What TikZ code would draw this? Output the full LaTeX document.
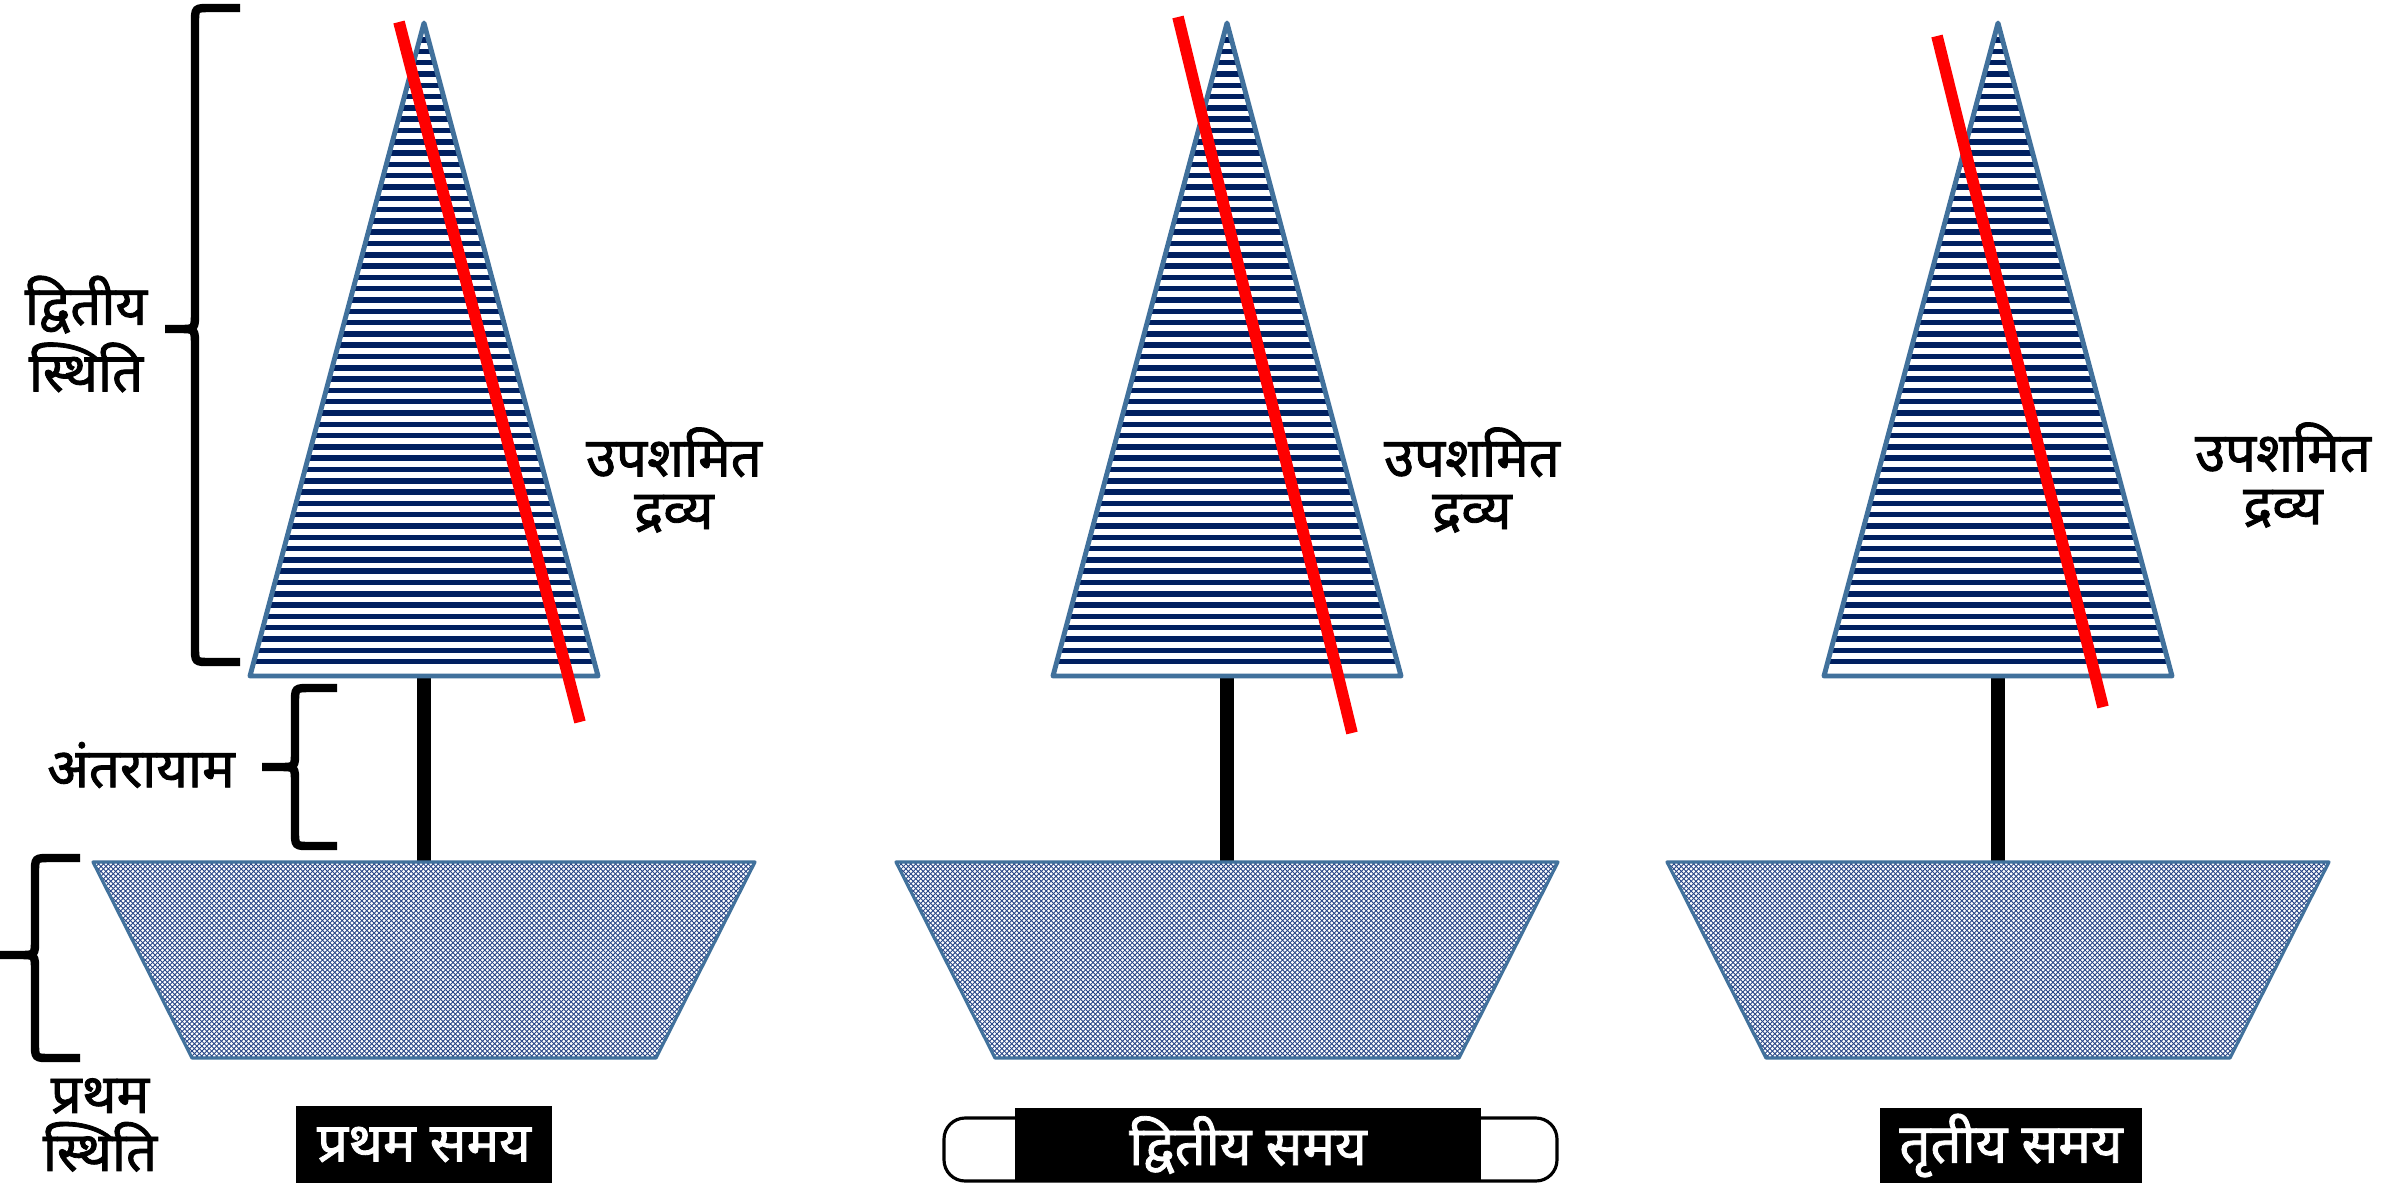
\documentclass[tikz,border=0pt]{standalone}
\usepackage{fontspec}
\newfontfamily\hindi[Script=Devanagari,FakeBold=1.6]{Noto Sans}
\usepackage{tkz-euclide}
\usetikzlibrary{patterns}

\definecolor{stripeblue}{RGB}{0,32,96}
\definecolor{edgeblue}{RGB}{65,113,156}
\definecolor{hatchblue}{RGB}{40,70,135}

\pgfdeclarepatternformonly{finehatch}{\pgfqpoint{-0.1pt}{-0.1pt}}{\pgfqpoint{1.5pt}{1.5pt}}{\pgfqpoint{1.4pt}{1.4pt}}{%
  \pgfsetlinewidth{0.25pt}
  \pgfpathmoveto{\pgfqpoint{0pt}{0pt}}\pgfpathlineto{\pgfqpoint{1.4pt}{1.4pt}}
  \pgfpathmoveto{\pgfqpoint{0pt}{1.4pt}}\pgfpathlineto{\pgfqpoint{1.4pt}{0pt}}
  \pgfusepath{stroke}}

\begin{document}
\begin{tikzpicture}[x=.01cm,y=-.01cm,
  curly/.style={line width=2.4pt,line cap=butt},
  lbl/.style={font=\hindi\bfseries\fontsize{15.5}{15}\selectfont,align=center,inner sep=0pt},
  timebox/.style={fill=black,text=white,inner sep=0pt,font=\hindi\bfseries\fontsize{15.5}{17}\selectfont}]
	\useasboundingbox[fill=white] (0,0) rectangle (2402,1184);
	% first time
		\tkzDefPoints{424/23/A1,250/676/B1,598/676/C1,424/676/M1,424/862/N1}
		\tkzDefPoints{93/862/P1,755/862/Q1,656/1058/R1,192/1058/S1,399/22/U1,580/722/V1}
	% second time
		\tkzDefPoints{1227/23/A2,1053/676/B2,1401/676/C2,1227/676/M2,1227/862/N2}
		\tkzDefPoints{896/862/P2,1558/862/Q2,1459/1058/R2,995/1058/S2,1178/17/U2,1352/733/V2}
	% third time
		\tkzDefPoints{1998/23/A3,1824/676/B3,2172/676/C3,1998/676/M3,1998/862/N3}
		\tkzDefPoints{1667/862/P3,2329/862/Q3,2230/1058/R3,1766/1058/S3,1937/36/U3,2103/707/V3}
	%	\tkzDrawPoints[color=black,size=2pt](A1,B1,C1,P1,Q1,R1,S1)

	% stems
		\draw[line width=3.8pt] (M1) -- (N1) (M2) -- (N2) (M3) -- (N3);
	% striped triangles
		\begin{scope}
			\clip (A1) -- (B1) -- (C1) -- cycle (A2) -- (B2) -- (C2) -- cycle (A3) -- (B3) -- (C3) -- cycle;
			\foreach \i in {0,...,56}
				\fill[stripeblue] (0,26+11.3*\i) rectangle (2402,31.5+11.3*\i);
		\end{scope}
		\tkzDrawPolygon[color=edgeblue,line width=1.4pt](A1,B1,C1)
		\tkzDrawPolygon[color=edgeblue,line width=1.4pt](A2,B2,C2)
		\tkzDrawPolygon[color=edgeblue,line width=1.4pt](A3,B3,C3)
	% bases
		\tkzFillPolygon[pattern=finehatch,pattern color=hatchblue](P1,Q1,R1,S1)
		\tkzFillPolygon[pattern=finehatch,pattern color=hatchblue](P2,Q2,R2,S2)
		\tkzFillPolygon[pattern=finehatch,pattern color=hatchblue](P3,Q3,R3,S3)
		\tkzDrawPolygon[color=edgeblue,line width=.9pt](P1,Q1,R1,S1)
		\tkzDrawPolygon[color=edgeblue,line width=.9pt](P2,Q2,R2,S2)
		\tkzDrawPolygon[color=edgeblue,line width=.9pt](P3,Q3,R3,S3)
	% red lines
		\draw[red,line width=3.3pt] (U1) -- (V1) (U2) -- (V2) (U3) -- (V3);

	% braces
		\draw[curly] (240,8) -- (210,8) .. controls (195,8) .. (195,23) -- (195,312) .. controls (195,329) .. (180,329) -- (165,329)
			-- (180,329) .. controls (195,329) .. (195,346) -- (195,647) .. controls (195,662) .. (210,662) -- (240,662);
		\draw[curly] (337,688) -- (310,688) .. controls (295,688) .. (295,703) -- (295,752) .. controls (295,767) .. (280,767) -- (262,767)
			-- (280,767) .. controls (295,767) .. (295,782) -- (295,831) .. controls (295,846) .. (310,846) -- (337,846);
		\draw[curly] (80,858) -- (50,858) .. controls (35,858) .. (35,873) -- (35,940) .. controls (35,955) .. (20,955) -- (0,955)
			-- (20,955) .. controls (35,955) .. (35,970) -- (35,1043) .. controls (35,1058) .. (50,1058) -- (80,1058);

	% labels
		\node[lbl,font=\hindi\bfseries\fontsize{15.5}{19}\selectfont] (second) at (86,334) {द्वितीय\\स्थिति};
		\node[lbl] (gap) at (141,765) {अंतरायाम};
		\node[lbl,font=\hindi\bfseries\fontsize{15.5}{16.5}\selectfont] (first) at (100,1125) {प्रथम\\स्थिति};
		\node[lbl] (sub1) at (674,480) {उपशमित\\द्रव्य};
		\node[lbl] (sub2) at (1472,480) {उपशमित\\द्रव्य};
		\node[lbl] (sub3) at (2283,475) {उपशमित\\द्रव्य};

	% time boxes
		\node[timebox,minimum width=2.56cm,minimum height=.77cm] (time1) at (424,1144.5) {प्रथम समय};
		\draw[line width=.9pt,rounded corners=6pt,fill=white] (944,1118) rectangle (1557,1181);
		\node[timebox,minimum width=4.65cm,minimum height=.74cm] (time2) at (1248,1145) {द्वितीय समय};
		\node[timebox,minimum width=2.61cm,minimum height=.75cm] (time3) at (2011,1145.5) {तृतीय समय};
\end{tikzpicture}
\end{document}
